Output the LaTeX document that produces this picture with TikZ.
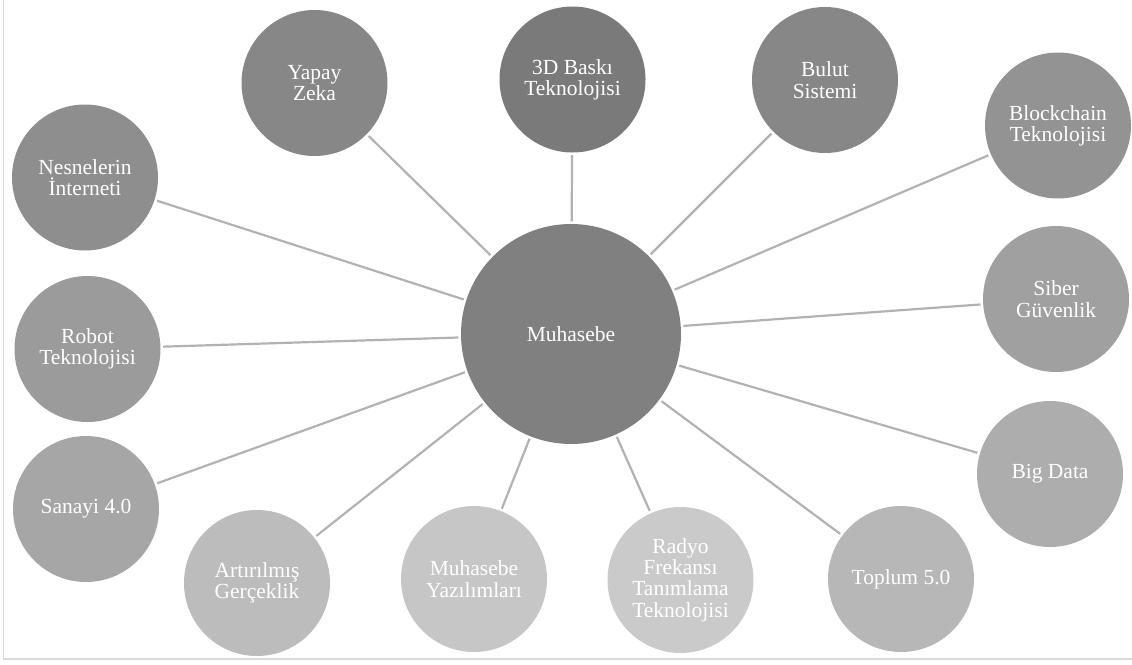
\documentclass[tikz,border=0pt]{standalone}
\usepackage{fontspec}
\setmainfont{Liberation Serif}
\definecolor{cHub}{HTML}{808080}
\definecolor{cThreeD}{HTML}{7A7A7A}
\definecolor{cYapay}{HTML}{878787}
\definecolor{cBulut}{HTML}{878787}
\definecolor{cNes}{HTML}{8E8E8E}
\definecolor{cBlock}{HTML}{939393}
\definecolor{cRobot}{HTML}{9B9B9B}
\definecolor{cSiber}{HTML}{A0A0A0}
\definecolor{cSanayi}{HTML}{A6A6A6}
\definecolor{cBig}{HTML}{ADADAD}
\definecolor{cToplum}{HTML}{B7B7B7}
\definecolor{cArt}{HTML}{BCBCBC}
\definecolor{cYaz}{HTML}{C6C6C6}
\definecolor{cRadyo}{HTML}{CACACA}
\definecolor{cLink}{HTML}{B2B2B2}
\definecolor{cFrame}{HTML}{DADADA}
\begin{document}
\begin{tikzpicture}[x=1pt,y=-1pt,
  topic/.style={circle,minimum size=146pt,inner sep=0pt,align=center,
    text=white,font=\fontsize{21.5}{21.3}\selectfont},
  hub/.style={topic,minimum size=220pt,fill=cHub},
  link/.style={draw=cLink,line width=2.2pt,shorten <=2.5pt,shorten >=2.5pt}]
\useasboundingbox (0,0) rectangle (1132,664);
% frame (left and bottom edges)
\draw[cFrame,line width=1.5pt] (3.5,0) -- (3.5,659) -- (1132,659);
% central node
\node[hub] (hub) at (571,334) {Muhasebe};
% surrounding topics
\node[topic,fill=cYapay]  (yapay)  at (314.5,83)  {Yapay\\Zeka};
\node[topic,fill=cThreeD] (baski)  at (572.5,79.5){3D Baskı\\Teknolojisi};
\node[topic,fill=cBulut]  (bulut)  at (825,80)    {Bulut\\Sistemi};
\node[topic,fill=cBlock]  (block)  at (1058,125.5){Blockchain\\Teknolojisi};
\node[topic,fill=cNes]    (nes)    at (85,177.5)  {Nesnelerin\\İnterneti};
\node[topic,fill=cSiber]  (siber)  at (1056,299)  {Siber\\Güvenlik};
\node[topic,fill=cRobot]  (robot)  at (87.5,349)  {Robot\\Teknolojisi};
\node[topic,fill=cBig]    (big)    at (1050,474)  {Big Data};
\node[topic,fill=cSanayi] (sanayi) at (86,509)    {Sanayi 4.0};
\node[topic,fill=cToplum] (toplum) at (901,579)   {Toplum 5.0};
\node[topic,fill=cArt]    (art)    at (257,583)   {Artırılmış\\Gerçeklik};
\node[topic,fill=cYaz]    (yaz)    at (474,579)   {Muhasebe\\Yazılımları};
\node[topic,fill=cRadyo]  (radyo)  at (680.5,580) {Radyo\\Frekansı\\Tanımlama\\Teknolojisi};
% spokes
\foreach \t in {yapay,baski,bulut,block,nes,siber,robot,big,sanayi,toplum,art,yaz,radyo}
  \draw[link] (\t) -- (hub);
\end{tikzpicture}
\end{document}
